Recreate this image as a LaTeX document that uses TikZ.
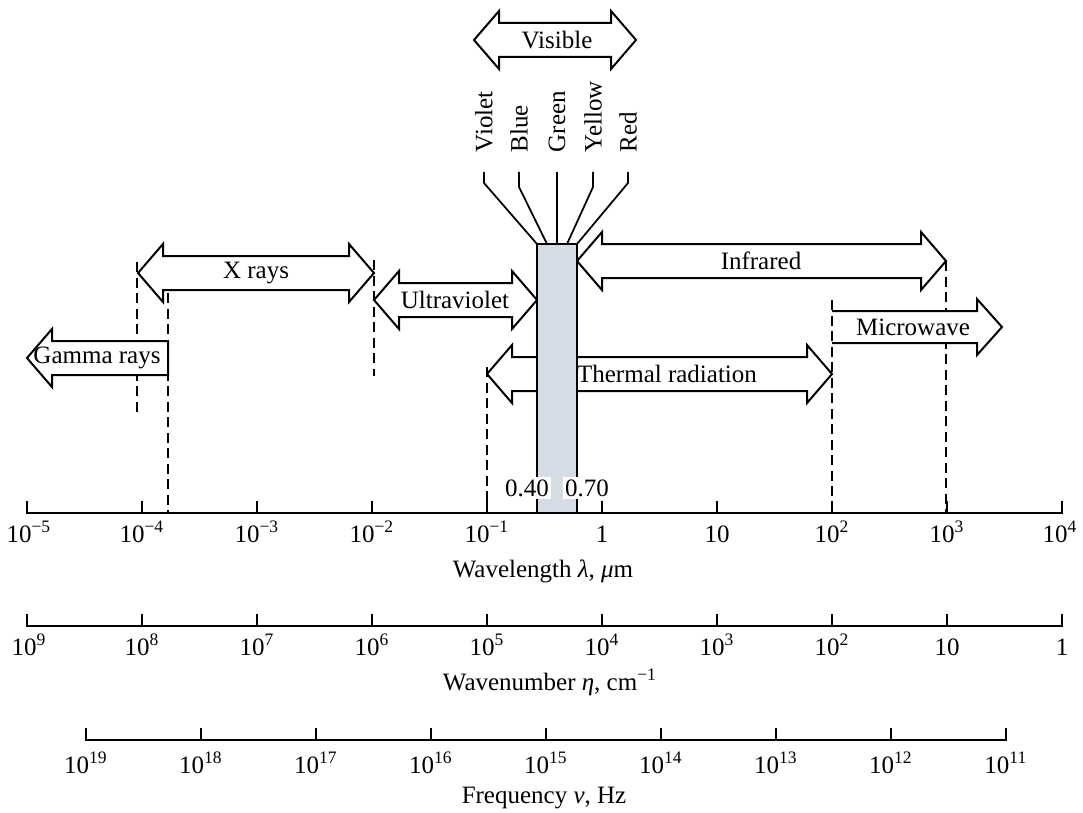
\documentclass[tikz,border=0pt]{standalone}
\usepackage{fontspec}
\setmainfont{Liberation Serif}
\definecolor{visband}{RGB}{214,220,230}
\newcommand{\tn}[1]{10\textsuperscript{#1}}
% double-headed band arrow: left x, right x, centre y
\newcommand{\dblband}[3]{%
  \draw[band] (#1,#3) -- ({#1+25},{#3-29}) -- ({#1+25},{#3-17}) -- ({#2-25},{#3-17})
    -- ({#2-25},{#3-29}) -- (#2,#3) -- ({#2-25},{#3+29}) -- ({#2-25},{#3+17})
    -- ({#1+25},{#3+17}) -- ({#1+25},{#3+29}) -- cycle;}
\tikzset{
  band/.style={draw, line width=0.8pt, fill=white, line join=miter},
  guide/.style={line width=0.7pt, dash pattern=on 4pt off 2.2pt},
  ticklabel/.style={anchor=base, inner sep=0pt},
  colourlabel/.style={rotate=90, anchor=west, inner sep=1.5pt},
}
\begin{document}
\begin{tikzpicture}[x=0.4pt, y=-0.4pt, line width=0.7pt, font=\fontsize{10}{12}\selectfont]
            \useasboundingbox (0,0) rectangle (1083,812);

            % dashed guides
            \draw[guide] (137,262) -- (137,413);
            \draw[guide] (168,293) -- (168,513);
            \draw[guide] (374,260) -- (374,376);
            \draw[guide] (487,367) -- (487,513);
            \draw[guide] (946,261) -- (946,513);

            % bands
            \dblband{474}{636}{40}
            \dblband{138}{374}{273}
            \dblband{374}{537}{300}
            \dblband{577}{946}{261}
            \dblband{487}{832}{374}
            \draw[band] (27,358) -- (52,329) -- (52,341) -- (168,341) -- (168,375)
                -- (52,375) -- (52,387) -- cycle;
            \draw[band] (832,311) -- (977,311) -- (977,299) -- (1002,327) -- (977,355)
                -- (977,343) -- (832,343);
            \draw[guide] (832,300) -- (832,513);

            % visible strip
            \draw[fill=visband, line width=0.8pt] (537,244) rectangle (577,513);
            \coordinate (cv) at (537,244);
            \coordinate (cb) at (547,244);
            \coordinate (cg) at (557,244);
            \coordinate (cy) at (567,244);
            \coordinate (cr) at (577,244);

            \node (vis) at (557,40) {Visible};
            \node (xray) at (256,273) {X rays};
            \node (uv) at (455,300) {Ultraviolet};
            \node (gamma) at (97,358) {Gamma rays};
            \node (ir) at (761,261) {Infrared};
            \node (thermal) at (667,374) {Thermal radiation};
            \node (micro) at (913,327) {Microwave};

            \node[colourlabel] (violet) at (484,157) {Violet};
            \node[colourlabel] (blue) at (519,157) {Blue};
            \node[colourlabel] (green) at (557,157) {Green};
            \node[colourlabel] (yellow) at (593,157) {Yellow};
            \node[colourlabel] (red) at (628,157) {Red};

            \draw (violet.west) ++(0,15) -- ++(0,11) -- (cv);
            \draw (blue.west) ++(0,15) -- ++(0,15) -- (cb);
            \draw (green.west) ++(0,15) -- (cg);
            \draw (yellow.west) ++(0,15) -- ++(0,15) -- (cy);
            \draw (red.west) ++(0,15) -- ++(0,11) -- (cr);

            \node[fill=white, inner sep=1pt] (lo) at (527,488) {0.40};
            \node[fill=white, inner sep=1pt] (hi) at (587,488) {0.70};

            % wavelength
            \draw (27,501) -- (27,513) -- (1062,513) -- (1062,501);
            \draw (142,501) -- (142,513);
            \draw (257,501) -- (257,513);
            \draw (372,501) -- (372,513);
            \draw (487,501) -- (487,513);
            \draw (602,501) -- (602,513);
            \draw (717,501) -- (717,513);
            \draw (832,501) -- (832,513);
            \draw (947,501) -- (947,513);
            \node[ticklabel] (w0) at (29,542) {\tn{−5}};
            \node[ticklabel] (w1) at (142,542) {\tn{−4}};
            \node[ticklabel] (w2) at (257,542) {\tn{−3}};
            \node[ticklabel] (w3) at (372,542) {\tn{−2}};
            \node[ticklabel] (w4) at (487,542) {\tn{−1}};
            \node[ticklabel] (w5) at (602,542) {1};
            \node[ticklabel] (w6) at (717,542) {10};
            \node[ticklabel] (w7) at (832,542) {\tn{2}};
            \node[ticklabel] (w8) at (947,542) {\tn{3}};
            \node[ticklabel] (w9) at (1060,542) {\tn{4}};
            \node[ticklabel] (wl) at (543,577) {Wavelength \textit{λ}, \textit{μ}m};

            % wavenumber
            \draw (27,614) -- (27,626) -- (1062,626) -- (1062,614);
            \draw (142,614) -- (142,626);
            \draw (257,614) -- (257,626);
            \draw (372,614) -- (372,626);
            \draw (487,614) -- (487,626);
            \draw (602,614) -- (602,626);
            \draw (717,614) -- (717,626);
            \draw (832,614) -- (832,626);
            \draw (947,614) -- (947,626);
            \node[ticklabel] (n0) at (29,655) {\tn{9}};
            \node[ticklabel] (n1) at (142,655) {\tn{8}};
            \node[ticklabel] (n2) at (257,655) {\tn{7}};
            \node[ticklabel] (n3) at (372,655) {\tn{6}};
            \node[ticklabel] (n4) at (487,655) {\tn{5}};
            \node[ticklabel] (n5) at (602,655) {\tn{4}};
            \node[ticklabel] (n6) at (717,655) {\tn{3}};
            \node[ticklabel] (n7) at (832,655) {\tn{2}};
            \node[ticklabel] (n8) at (947,655) {10};
            \node[ticklabel] (n9) at (1062,655) {1};
            \node[ticklabel] (wn) at (550,690) {Wavenumber \textit{η}, cm\textsuperscript{−1}};

            % frequency
            \draw (86,728) -- (86,740) -- (1006,740) -- (1006,728);
            \draw (201,728) -- (201,740);
            \draw (316,728) -- (316,740);
            \draw (431,728) -- (431,740);
            \draw (546,728) -- (546,740);
            \draw (661,728) -- (661,740);
            \draw (776,728) -- (776,740);
            \draw (891,728) -- (891,740);
            \node[ticklabel] (f0) at (86,773) {\tn{19}};
            \node[ticklabel] (f1) at (201,773) {\tn{18}};
            \node[ticklabel] (f2) at (316,773) {\tn{17}};
            \node[ticklabel] (f3) at (431,773) {\tn{16}};
            \node[ticklabel] (f4) at (546,773) {\tn{15}};
            \node[ticklabel] (f5) at (661,773) {\tn{14}};
            \node[ticklabel] (f6) at (776,773) {\tn{13}};
            \node[ticklabel] (f7) at (891,773) {\tn{12}};
            \node[ticklabel] (f8) at (1006,773) {\tn{11}};
            \node[ticklabel] (fq) at (544,803) {Frequency \textit{ν}, Hz};
        \end{tikzpicture}
\end{document}
